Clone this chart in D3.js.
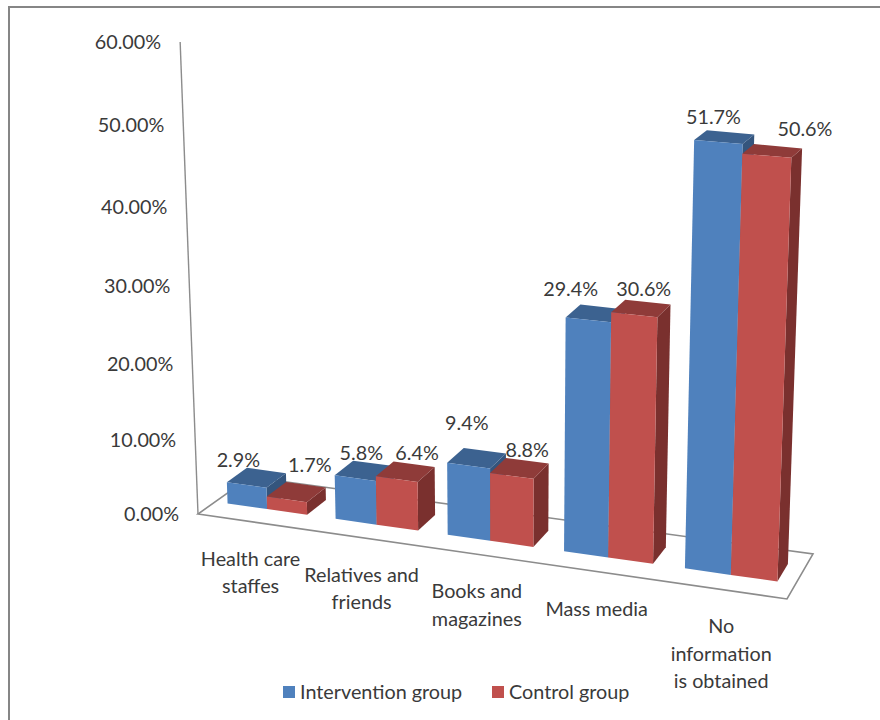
<!DOCTYPE html>
<html>
<head>
<meta charset="utf-8">
<script src="https://cdn.jsdelivr.net/npm/d3@7"></script>
<style>
  html, body { margin: 0; padding: 0; background: #fff; }
  svg { display: block; }
  text { font-family: Lato, "Open Sans", sans-serif; fill: #3a3a3a; }
</style>
</head>
<body>
<svg id="chart" width="880" height="720"></svg>
<script>
const categories = [
  ["Health care", "staffes"],
  ["Relatives and", "friends"],
  ["Books and", "magazines"],
  ["Mass media"],
  ["No", "information", "is obtained"]
];
const seriesNames = ["Intervention group", "Control group"];
const interventionValues = [2.9, 5.8, 9.4, 29.4, 51.7];
const controlValues = [1.7, 6.4, 8.8, 30.6, 50.6];
const tickValues = [0, 10, 20, 30, 40, 50, 60];

const palette = [
  { front: "#4f81bd", top: "#3c6290", side: "#34557d" },
  { front: "#c0504d", top: "#8f3b39", side: "#7a302e" }
];

// Floor corners as [x, y], and the pixel height of the axis maximum above each.
const floorCorners = [[198, 514], [787, 599], [813, 554], [250, 477]];
const cornerHeights = [472, 517, 492, 465];
const verticalPerspective = 0.07;
const tiltCentreX = 508, tiltPerPixel = 0.000122;
const fontSize = 19.8;

// Maps the unit square onto a quadrilateral.
function squareToQuad(q) {
  const [[x0, y0], [x1, y1], [x2, y2], [x3, y3]] = q;
  const dx1 = x1 - x2, dx2 = x3 - x2, dx3 = x0 - x1 + x2 - x3;
  const dy1 = y1 - y2, dy2 = y3 - y2, dy3 = y0 - y1 + y2 - y3;
  const det = dx1 * dy2 - dx2 * dy1;
  const g = (dx3 * dy2 - dx2 * dy3) / det;
  const h = (dx1 * dy3 - dx3 * dy1) / det;
  const a = x1 - x0 + g * x1, b = x3 - x0 + h * x3;
  const d = y1 - y0 + g * y1, e = y3 - y0 + h * y3;
  return (u, v) => {
    const w = g * u + h * v + 1;
    return [(a * u + b * v + x0) / w, (d * u + e * v + y0) / w];
  };
}

const floor = squareToQuad(floorCorners);

const valueScale = d3.scaleLinear().domain([0, 60]).range([0, 1]);
const bandScale = d3.scaleBand()
  .domain(d3.range(categories.length))
  .range([0, 1])
  .paddingInner(0.26)
  .paddingOuter(0.13)
  .align(0.45);
const depthFront = 0.32, depthBack = 0.71;

// Projects slot position, depth and value to the screen. Heights grow towards
// the viewer and verticals lean outwards from the centre of the view.
function project(u, d, value) {
  const s = valueScale(value);
  const t = s / (1 + verticalPerspective * (1 - s));
  const f = floor(u, d);
  const [h0, h1, h2, h3] = cornerHeights;
  const full = (h0 + (h1 - h0) * u) * (1 - d) + (h3 + (h2 - h3) * u) * d;
  const h = full * t;
  return [f[0] + tiltPerPixel * (f[0] - tiltCentreX) * h, f[1] - h];
}

const svg = d3.select("#chart");
const pathOf = pts => d3.line()(pts) + "Z";

// Outer frame of the chart area
svg.append("rect")
  .attr("x", 9).attr("y", 7).attr("width", 900).attr("height", 800)
  .attr("fill", "none").attr("stroke", "#868686").attr("stroke-width", 2);

// Floor outline and vertical axis
svg.append("path")
  .attr("d", pathOf([0, 1, 2, 3].map(i => floorCorners[i])))
  .attr("fill", "none").attr("stroke", "#8c8c8c").attr("stroke-width", 1.6);
svg.append("path")
  .attr("d", d3.line()([project(0, 0, 0), project(0, 0, 60)]))
  .attr("fill", "none").attr("stroke", "#8c8c8c").attr("stroke-width", 1.4);

// Axis tick labels
svg.append("g").selectAll("text").data(tickValues).join("text")
  .attr("x", d => project(0, 0, d)[0] - 19)
  .attr("y", d => project(0, 0, d)[1] + 7)
  .attr("text-anchor", "end")
  .attr("font-size", fontSize)
  .text(d => d.toFixed(2) + "%");

// Bars, painted back to front within each group
const groupWidth = bandScale.bandwidth();
const bars = categories.flatMap((c, i) => [
  { cat: i, series: 0, value: interventionValues[i] },
  { cat: i, series: 1, value: controlValues[i] }
]);

const barG = svg.append("g").selectAll("g").data(bars).join("g");
barG.each(function (b) {
  const g = d3.select(this);
  const u0 = bandScale(b.cat) + b.series * groupWidth / 2;
  const u1 = u0 + groupWidth / 2;
  const col = palette[b.series];
  const P = project;
  g.append("path").attr("fill", col.side)
    .attr("d", pathOf([P(u1, depthFront, 0), P(u1, depthBack, 0), P(u1, depthBack, b.value), P(u1, depthFront, b.value)]));
  g.append("path").attr("fill", col.top)
    .attr("d", pathOf([P(u0, depthFront, b.value), P(u1, depthFront, b.value), P(u1, depthBack, b.value), P(u0, depthBack, b.value)]));
  g.append("path").attr("fill", col.front)
    .attr("d", pathOf([P(u0, depthFront, 0), P(u1, depthFront, 0), P(u1, depthFront, b.value), P(u0, depthFront, b.value)]));
});

// Value labels above each bar, each with its own hand-placed offset
const labelNudge = [
  [[-28, 5], [-12, 5], [-18, -13], [-32, -3], [-17, 0]],
  [[4, -5], [3, 4], [0, 4], [-4, 2], [27, -2]]
];
const labelAnchor = b => project(bandScale(b.cat) + (b.series + 0.5) * groupWidth / 2, depthBack, b.value);
svg.append("g").selectAll("text").data(bars).join("text")
  .attr("x", b => labelAnchor(b)[0] + labelNudge[b.series][b.cat][0])
  .attr("y", b => labelAnchor(b)[1] - 8 + labelNudge[b.series][b.cat][1])
  .attr("text-anchor", "middle")
  .attr("font-size", fontSize)
  .text(b => b.value.toFixed(1) + "%");

// Category labels under the front edge of the floor
const catG = svg.append("g").selectAll("text").data(categories).join("text")
  .attr("text-anchor", "middle")
  .attr("font-size", fontSize)
  .attr("transform", (c, i) => {
    const p = project(bandScale(i) + groupWidth / 2, 0, 0);
    return `translate(${p[0]},${p[1] + 44})`;
  });
catG.selectAll("tspan").data(c => c).join("tspan")
  .attr("x", 0).attr("dy", (d, i) => i ? 27.5 : 0).text(d => d);

// Legend
const legendItems = [{ x: 283, tx: 300 }, { x: 492, tx: 509 }];
const legend = svg.append("g").selectAll("g").data(seriesNames).join("g");
legend.append("rect")
  .attr("x", (d, i) => legendItems[i].x).attr("y", 686)
  .attr("width", 12).attr("height", 12)
  .attr("fill", (d, i) => palette[i].front);
legend.append("text")
  .attr("x", (d, i) => legendItems[i].tx).attr("y", 699)
  .attr("font-size", fontSize)
  .text(d => d);
</script>
</body>
</html>
